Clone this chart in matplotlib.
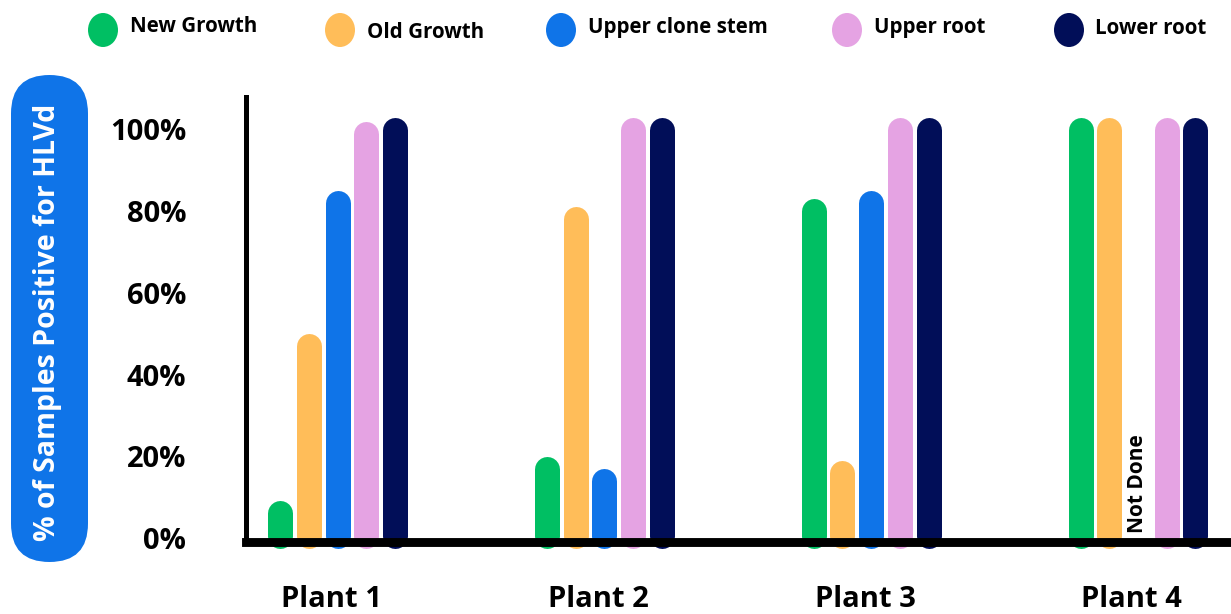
import numpy as np
import matplotlib
matplotlib.use("Agg")
import matplotlib.pyplot as plt
from matplotlib.patches import FancyBboxPatch, Ellipse
from matplotlib.transforms import IdentityTransform, ScaledTranslation

plt.rcParams['font.family'] = ['Open Sans', 'DejaVu Sans']

# ---------------- data ----------------
plants = ["Plant 1", "Plant 2", "Plant 3", "Plant 4"]
series = ["New Growth", "Old Growth", "Upper clone stem", "Upper root", "Lower root"]
new_growth = [6, 17, 80, 100]
old_growth = [47, 78, 16, 100]
upper_clone_stem = [82, 14, 82, np.nan]   # Plant 4: Not Done
upper_root = [99, 100, 100, 100]
lower_root = [100, 100, 100, 100]
yticks = [0, 20, 40, 60, 80, 100]
ytick_labels = ["0%", "20%", "40%", "60%", "80%", "100%"]
ylabel = "% of Samples Positive for HLVd"
not_done_label = "Not Done"

values = [new_growth, old_growth, upper_clone_stem, upper_root, lower_root]
colors = ["#00BF63", "#FFBD59", "#0F74E8", "#E5A3E3", "#010E58"]

# ---------------- figure ----------------
W, H = 1231, 614
fig = plt.figure(figsize=(W / 100, H / 100), dpi=100)

def fx(px):
    return px / W

def fy(py):
    return 1 - py / H

ax_left, ax_right, ax_top, ax_bottom = 246, 1231, 96.5, 542
ax = fig.add_axes([fx(ax_left), fy(ax_bottom), fx(ax_right) - fx(ax_left), fy(ax_top) - fy(ax_bottom)])

px_per_unit = 4.085
zero_px = 538
ax.set_ylim(-(ax_bottom - zero_px) / px_per_unit, (zero_px - ax_top) / px_per_unit)
group_px = 266.8
first_center = 337.5
ax.set_xlim(-(first_center - ax_left) / group_px, (ax_right - first_center) / group_px)

pitch = 28.7 / group_px
base = 2.5 / px_per_unit   # keep the round bottom cap mostly hidden behind the axis line
x = np.arange(len(plants))
for j, (vals, c) in enumerate(zip(values, colors)):
    v = np.asarray(vals, dtype=float)
    m = ~np.isnan(v)
    xs = x[m] + (j - 2) * pitch
    ax.vlines(xs, base, v[m], colors=c, linewidth=18, capstyle='round',
              clip_on=False, zorder=2)

# Not Done annotation for missing value
for i, v in enumerate(upper_clone_stem):
    if np.isnan(v):
        ax.text(x[i] + 0 * pitch, 1.2, not_done_label, rotation=90, ha='center',
                va='bottom', fontsize=15, fontweight='bold', color='black')

# spines
for s in ['top', 'right']:
    ax.spines[s].set_visible(False)
ax.spines['bottom'].set_linewidth(6.4)
ax.spines['left'].set_linewidth(3.6)
ax.spines['bottom'].set_capstyle('projecting')
ax.spines['left'].set_capstyle('projecting')
ax.spines['bottom'].set_zorder(5)
ax.spines['left'].set_zorder(5)

ax.set_yticks(yticks)
ax.set_yticklabels(ytick_labels, fontsize=21, fontweight='bold')
ax.tick_params(axis='y', length=0, pad=43)
ax.set_xticks(x)
ax.set_xticklabels(plants, fontsize=21, fontweight='bold')
ax.tick_params(axis='x', length=0, pad=31)
for lab in ax.get_xticklabels():
    lab.set_transform(lab.get_transform() + ScaledTranslation(-6 / 100, 0, fig.dpi_scale_trans))

# y label pill
pill_x0, pill_x1, pill_y0, pill_y1 = 11, 88, 75, 562
pill = FancyBboxPatch((pill_x0, H - pill_y1), pill_x1 - pill_x0, pill_y1 - pill_y0,
                      boxstyle="round,pad=0,rounding_size=38.5",
                      transform=IdentityTransform(), facecolor="#0F74E8", edgecolor='none')
fig.add_artist(pill)
fig.text(fx(48), fy(322), ylabel, rotation=90, ha='center', va='center',
         color='white', fontsize=20.5, fontweight='bold')

# legend (manual)
leg_circle_x = [103, 340, 561, 847, 1069]
leg_text_x = [130, 367, 588, 874, 1095]
leg_text_y = [27, 32, 28, 28, 28]
for cx, tx, ty, name, c in zip(leg_circle_x, leg_text_x, leg_text_y, series, colors):
    fig.add_artist(Ellipse((cx, H - 30), 30, 34, transform=IdentityTransform(),
                           facecolor=c, edgecolor='none'))
    fig.text(fx(tx), fy(ty), name, ha='left', va='center', fontsize=14.8,
             fontweight='bold', color='black')

fig.savefig("out.png", dpi=100)
